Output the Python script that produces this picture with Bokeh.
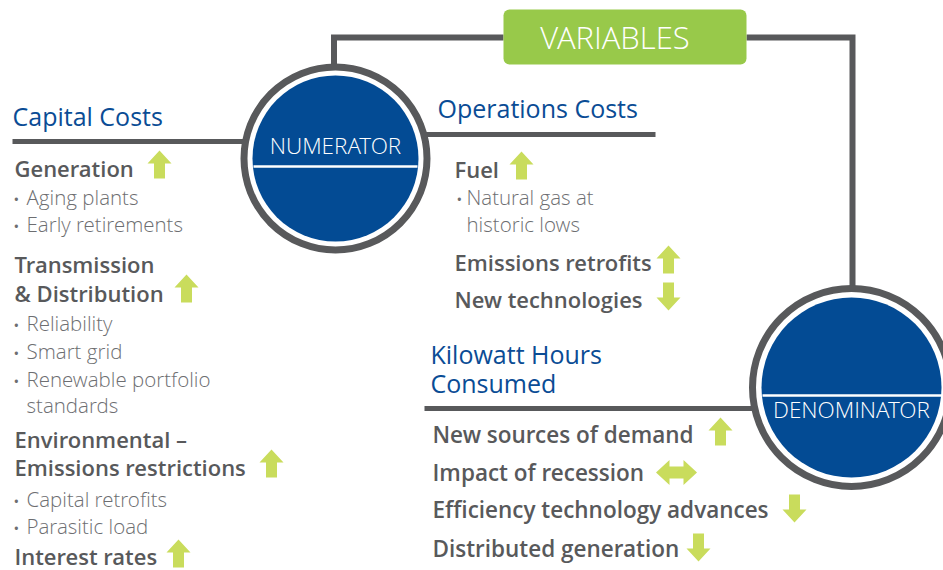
from bokeh.plotting import figure
from bokeh.models import Range1d
from bokeh.embed import file_html
from bokeh.resources import INLINE
from bokeh.core.properties import value

# ---------------- content ----------------
box_label = "VARIABLES"
circle_labels = ["NUMERATOR", "DENOMINATOR"]
section_titles = ["Capital Costs", "Operations Costs", "Kilowatt Hours", "Consumed"]

left_text = ["Generation", "Aging plants", "Early retirements", "Transmission",
             "& Distribution", "Reliability", "Smart grid", "Renewable portfolio",
             "standards", "Environmental \u2013", "Emissions restrictions",
             "Capital retrofits", "Parasitic load", "Interest rates"]
left_kind = ["h", "b", "b", "h", "h", "b", "b", "b", "c", "h", "h", "b", "b", "h"]

mid_text = ["Fuel", "Natural gas at", "historic lows", "Emissions retrofits", "New technologies"]
mid_kind = ["h", "b", "c", "h", "h"]

right_text = ["New sources of demand", "Impact of recession",
              "Efficiency technology advances", "Distributed generation"]
right_kind = ["h", "h", "h", "h"]

# trend of each variable: up / down / both
arrow_dir = ["up", "up", "up", "up", "up", "up", "down", "up", "both", "down", "down"]

# ---------------- layout (baselines in px) ----------------
left_base = [176, 205, 232, 272, 301, 331, 359, 387, 413, 447, 475, 507, 534, 564]
mid_base = [177, 205, 232, 270, 307]
right_base = [443, 481, 518, 557]
title_x = [12, 437, 430, 430]
title_base = [125, 117, 363, 392]
circle_base = [154, 418]
arrow_x = [159, 186, 271, 178, 521, 668, 668, 720, 676, 794, 698]
arrow_y = [164, 288, 463, 553, 165, 259, 296, 431, 472, 508, 547]

GRAY = "#58595B"
BLUE = "#0A4C95"
CBLUE = "#034B94"
GREEN = "#98C94A"
AGREEN = "#C9DC5C"
HTEXT = "#58595B"
BTEXT = "#6D6E71"
FONT = value("Open Sans")
HFONT = value("Open Sans SemiBold, Open Sans")
LFONT = value("Open Sans Light, Open Sans")


def ymid(bases, size):
    # text drawn with a "middle" baseline: centre of the caps sits ~0.357 em above baseline
    return [b - 0.357 * size - 1 for b in bases]


W, H = 943, 570
p = figure(width=W, height=H, output_backend="svg", toolbar_location=None,
           x_range=Range1d(0, W), y_range=Range1d(H, 0), min_border=0)
p.axis.visible = False
p.grid.visible = False
p.outline_line_color = None
p.background_fill_color = "white"
p.border_fill_color = "white"

# connector lines
p.line([333.5, 333.5, 503], [70, 37, 37], line_color=GRAY, line_width=6, line_join="miter")
p.line([746, 852, 852], [37, 37, 290], line_color=GRAY, line_width=6, line_join="miter")
# section rules
p.line([12, 245], [141, 141], line_color=GRAY, line_width=5)
p.line([425, 655], [134, 134], line_color=GRAY, line_width=5)
p.line([424, 755], [408, 408], line_color=GRAY, line_width=5)

# VARIABLES box
p.quad(left=503, right=746, top=9, bottom=64, fill_color=GREEN, line_color=None,
       border_radius=6)
p.text(x=[614.5], y=ymid([49], 31), text=[box_label], text_color="white", text_font=LFONT,
       text_font_size="31px", text_align="center", text_baseline="middle")

# circles
cx = [335, 851]
cy = [158, 387]
p.circle(x=cx, y=cy, radius=[91.5, 99], fill_color="white", line_color=GRAY, line_width=7)
p.circle(x=cx, y=cy, radius=[83, 90], fill_color=CBLUE, line_color=None)
p.segment(x0=[253, 762], y0=[166, 395], x1=[417, 945], y1=[166, 395],
          line_color="white", line_width=2.5)
p.text(x=cx, y=ymid(circle_base, 22.5), text=circle_labels, text_color="white",
       text_font=LFONT, text_font_size="22.5px", text_align="center",
       text_baseline="middle")

# section titles
p.text(x=title_x, y=ymid(title_base, 25), text=section_titles,
       text_color=BLUE, text_font=FONT, text_font_size="25px", text_baseline="middle")


def column(texts, kinds, bases, x_head, x_bul, x_txt, hsize=22):
    hx, hy, ht, bx, by, bt, dx, dy = [], [], [], [], [], [], [], []
    for t, k, b in zip(texts, kinds, bases):
        if k == "h":
            hx.append(x_head); hy.append(b); ht.append(t)
        else:
            bx.append(x_txt); by.append(b); bt.append(t)
            if k == "b":
                dx.append(x_bul); dy.append(b)
    if ht:
        p.text(x=hx, y=ymid(hy, hsize), text=ht, text_color=HTEXT, text_font=HFONT,
               text_font_size=f"{hsize}px", text_baseline="middle")
    if bt:
        p.text(x=bx, y=ymid(by, 20.5), text=bt, text_color=BTEXT, text_font=LFONT,
               text_font_size="20.5px", text_baseline="middle")
    if dx:
        p.text(x=dx, y=ymid(dy, 15), text=["\u2022"] * len(dx), text_color=BTEXT,
               text_font=FONT, text_font_size="15px", text_baseline="middle")


column(left_text, left_kind, left_base, 14, 13, 26)
column(mid_text, mid_kind, mid_base, 454, 456, 466)
column(right_text, right_kind, right_base, 432, 432, 432, hsize=22.5)


def arrow_shape(d, x, y):
    if d == "up":
        xs = [x, x + 12, x + 5.5, x + 5.5, x - 5.5, x - 5.5, x - 12]
        ys = [y - 14, y - 1, y - 1, y + 14, y + 14, y - 1, y - 1]
    elif d == "down":
        xs = [x, x + 12, x + 5.5, x + 5.5, x - 5.5, x - 5.5, x - 12]
        ys = [y + 14, y + 1, y + 1, y - 14, y - 14, y + 1, y + 1]
    else:
        xs = [x - 20.5, x - 7, x - 7, x + 7, x + 7, x + 20.5, x + 7, x + 7, x - 7, x - 7]
        ys = [y, y - 12.5, y - 6, y - 6, y - 12.5, y, y + 12.5, y + 6, y + 6, y + 12.5]
    return xs, ys


axs, ays = [], []
for d, x, y in zip(arrow_dir, arrow_x, arrow_y):
    a, b = arrow_shape(d, x, y)
    axs.append(a); ays.append(b)
p.patches(xs=axs, ys=ays, fill_color=AGREEN, line_color=None)

open("out.html", "w").write(file_html(p, INLINE))
